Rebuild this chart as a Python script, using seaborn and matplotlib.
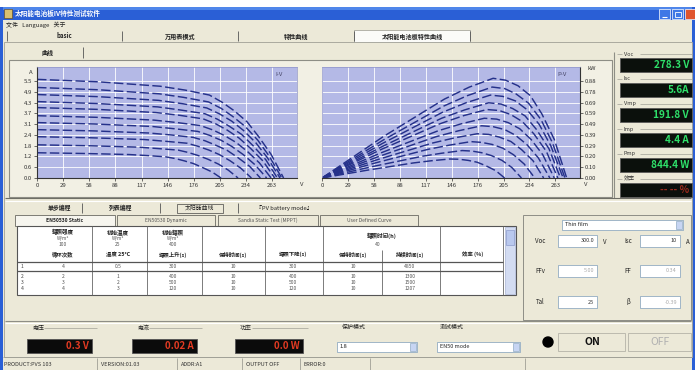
import matplotlib
matplotlib.use("Agg")
import matplotlib.pyplot as plt
from matplotlib.patches import Rectangle, Circle
import pandas as pd
import seaborn as sns

# ---------------- data ----------------
V_01 = [0, 69, 138, 166, 193, 207, 221, 235, 248, 262, 276]
I_01 = [5.59, 5.45, 5.20, 4.98, 4.70, 4.30, 3.80, 3.19, 2.35, 1.34, 0]
V_02 = [0, 69, 137, 164, 192, 206, 219, 233, 247, 260, 274]
I_02 = [5.13, 5.00, 4.77, 4.57, 4.31, 3.95, 3.49, 2.92, 2.15, 1.23, 0]
V_03 = [0, 68, 136, 163, 190, 204, 218, 231, 245, 258, 272]
I_03 = [4.73, 4.61, 4.40, 4.21, 3.97, 3.64, 3.22, 2.70, 1.99, 1.14, 0]
V_04 = [0, 67, 135, 161, 188, 202, 215, 229, 242, 256, 269]
I_04 = [4.33, 4.22, 4.03, 3.85, 3.64, 3.33, 2.94, 2.47, 1.82, 1.04, 0]
V_05 = [0, 67, 133, 160, 186, 200, 213, 226, 239, 253, 266]
I_05 = [3.99, 3.89, 3.71, 3.55, 3.35, 3.07, 2.71, 2.27, 1.68, 0.96, 0]
V_06 = [0, 66, 131, 157, 183, 197, 210, 223, 236, 249, 262]
I_06 = [3.53, 3.44, 3.28, 3.14, 2.97, 2.72, 2.40, 2.01, 1.48, 0.85, 0]
V_07 = [0, 64, 129, 154, 180, 193, 206, 218, 231, 244, 257]
I_07 = [3.14, 3.06, 2.92, 2.79, 2.64, 2.42, 2.14, 1.79, 1.32, 0.75, 0]
V_08 = [0, 63, 125, 150, 175, 188, 200, 213, 225, 238, 250]
I_08 = [2.74, 2.67, 2.55, 2.44, 2.30, 2.11, 1.86, 1.56, 1.15, 0.66, 0]
V_09 = [0, 60, 120, 144, 168, 180, 192, 204, 216, 228, 240]
I_09 = [2.34, 2.28, 2.18, 2.08, 1.97, 1.80, 1.59, 1.33, 0.98, 0.56, 0]
V_10 = [0, 56, 113, 135, 158, 169, 180, 191, 203, 214, 225]
I_10 = [1.88, 1.83, 1.75, 1.67, 1.58, 1.45, 1.28, 1.07, 0.79, 0.45, 0]
V_11 = [0, 52, 103, 124, 144, 155, 165, 175, 185, 196, 206]
I_11 = [1.43, 1.39, 1.33, 1.27, 1.20, 1.10, 0.97, 0.82, 0.60, 0.34, 0]

VOLT_SETS = [V_01, V_02, V_03, V_04, V_05, V_06, V_07, V_08, V_09, V_10, V_11]
AMP_SETS = [I_01, I_02, I_03, I_04, I_05, I_06, I_07, I_08, I_09, I_10, I_11]

V_TICKS = [0, 29.25, 58.5, 87.75, 117, 146.25, 175.5, 204.75, 234, 263.25]
V_LABELS = ["0", "29", "58", "88", "117", "146", "176", "205", "234", "263"]
I_TICKS = [0, 0.61, 1.22, 1.83, 2.44, 3.05, 3.66, 4.27, 4.88, 5.49]
I_LABELS = ["0.0", "0.6", "1.2", "1.8", "2.4", "3.1", "3.7", "4.3", "4.9", "5.5"]
P_TICKS = [0, 0.098, 0.196, 0.294, 0.392, 0.49, 0.588, 0.686, 0.784, 0.882]
P_LABELS = ["0.00", "0.10", "0.20", "0.29", "0.39", "0.49", "0.59", "0.69", "0.78", "0.88"]

DISPLAY_NAMES = ["Voc", "Isc", "Vmp", "Imp", "Pmp", "效率"]
DISPLAY_VALUES = ["278.3 V", "5.6A", "191.8 V", "4.4 A", "844.4 W", "-- -- %"]

MAIN_TABS = ["basic", "万用表模式", "特性曲线", "太阳能电池板特性曲线"]
LOWER_TABS = ["单步编程", "列表编程", "太阳能曲线", "『PV battery mode』"]
SUB_TABS = ["EN50530 Static", "EN50530 Dynamic", "Sandia Static Test (MPPT)", "User Defined Curve"]
TABLE_HEAD = ["循环次数", "温度 25°C", "辐照上升(s)", "保持时间(s)", "辐照下降(s)", "保持时间(s)", "持续时间(s)", "效率 (%)"]
TABLE_ROWS = [
    ["1", "4", "0.5", "300", "10", "300", "10", "4850", ""],
    ["2", "2", "1", "400", "10", "400", "10", "1300", ""],
    ["3", "3", "2", "500", "10", "500", "10", "1500", ""],
    ["4", "4", "3", "120", "10", "120", "10", "1207", ""],
]
BOTTOM_NAMES = ["电压", "电流", "功率"]
BOTTOM_VALUES = ["0.3 V", "0.02 A", "0.0 W"]
STATUS = ["PRODUCT:PVS 103", "VERSION:01.03", "ADDR:A1", "OUTPUT OFF", "ERROR:0"]

# ---------------- style ----------------
sns.set_theme(style="white")
plt.rcParams["font.family"] = ["Noto Sans CJK SC", "DejaVu Sans"]
plt.rcParams["axes.unicode_minus"] = False

W, H = 695, 370
WIN = "#ece9d8"
PLOT_BG = "#b4b9e6"
CURVE = "#25318a"

fig = plt.figure(figsize=(W / 100, H / 100), dpi=100)
fig.patch.set_facecolor(WIN)

bg = fig.add_axes([0, 0, 1, 1])
bg.set_xlim(0, W)
bg.set_ylim(H, 0)
bg.axis("off")


def rect(x0, y0, x1, y1, fc, ec="none", lw=0.6, z=1):
    bg.add_patch(Rectangle((x0, y0), x1 - x0, y1 - y0, facecolor=fc,
                           edgecolor=ec, linewidth=lw, zorder=z))


def line(xs, ys, c="#8a8a80", lw=0.6, z=2):
    bg.plot(xs, ys, color=c, lw=lw, zorder=z, solid_capstyle="butt")


def txt(x, y, s, size=4.5, color="#222222", ha="left", va="center", weight="normal", z=5):
    bg.text(x, y, s, fontsize=size, color=color, ha=ha, va=va, fontweight=weight, zorder=z)


# white strip above window, title bar
rect(0, 0, W, 7, "white")
rect(0, 7, W, 20, "#2a5fd6")
rect(0, 7, W, 10, "#4f86ea")
rect(0, 7, 3, H, "#2a5fd6")
rect(692, 7, W, H, "#2a5fd6")
rect(4, 9, 12, 18, "#d8c070", ec="#604010", lw=0.4, z=3)
txt(15, 13.5, "太阳能电池板IV特性测试软件", size=4.8, color="white", weight="bold")
for x0, fc in [(659, "#3f78e6"), (672, "#3f78e6"), (685, "#e0552e")]:
    rect(x0, 9, x0 + 11, 19, fc, ec="white", lw=0.5, z=3)
line([661.5, 666.5], [16.5, 16.5], c="white", lw=0.8, z=4)
bg.add_patch(Rectangle((674.5, 11.5), 6, 5, facecolor="none", edgecolor="white", lw=0.6, zorder=4))

# menu
txt(6, 25, "文件   Language   关于", size=4.3)

# main tabs
tab_x = [7, 122, 238, 354, 470]
rect(354, 30, 470, 42, "#fbfbf8", ec="#9a9a90", lw=0.5, z=2)
for i, name in enumerate(MAIN_TABS):
    cx = (tab_x[i] + tab_x[i + 1]) / 2
    txt(cx, 36, name, size=4.4, ha="center", weight="bold")
for x in tab_x:
    line([x, x], [31, 41], c="#555555", lw=0.6)

# content panel
rect(4, 42, 692, 357, WIN, ec="#a0a096", lw=0.6, z=1)
txt(47, 53, "曲线", size=4.3, ha="center", weight="bold")
line([83, 83], [47, 58], c="#555555")
rect(9, 60, 612, 197, "#f2f0e4", ec="#8e8e86", lw=0.8, z=1)
line([614, 614], [52, 198], c="#8e8e86", lw=0.8)

# right-side displays
box_top = [58, 83, 108, 133, 158, 183]
for i, (name, val) in enumerate(zip(DISPLAY_NAMES, DISPLAY_VALUES)):
    y0 = box_top[i]
    line([617, 622], [y0 - 4, y0 - 4], c="#a0a096", lw=0.5)
    line([640, 692], [y0 - 4, y0 - 4], c="#a0a096", lw=0.5)
    txt(624, y0 - 4, name, size=4.0, color="#333333")
    rect(620, y0, 692, y0 + 14, "#0b100c", ec="#5a5a5a", lw=0.6, z=2)
    col = "#9a2a1c" if i == 5 else "#2ee06a"
    txt(689, y0 + 7.3, val, size=7.2, color=col, ha="right", weight="bold")

# lower section
line([5, 691], [198, 198], c="#6e6e66", lw=0.8)
line([5, 691], [200.5, 200.5], c="white", lw=0.8)
low_x = [20, 82, 160, 238, 330]
for i, name in enumerate(LOWER_TABS):
    cx = (low_x[i] + low_x[i + 1]) / 2 + (8 if i == 0 else 0)
    txt(cx, 208, name, size=4.2, ha="center", weight="bold" if i < 2 else "normal")
rect(177, 203.5, 223, 212.5, "none", ec="#444444", lw=0.5, z=3)
for x in [82, 160, 238]:
    line([x, x], [203, 213], c="#555555")

sub_x = [(15, 115), (117, 215), (218, 318), (320, 418)]
for i, (a, b) in enumerate(sub_x):
    rect(a, 215, b, 226, "#f6f5ee" if i == 0 else WIN, ec="#6a6a62", lw=0.6, z=2)
    txt((a + b) / 2, 220.5, SUB_TABS[i], size=3.6, ha="center",
        color="#222222" if i == 0 else "#555555", weight="bold" if i == 0 else "normal")

# table
rect(17, 226, 516, 295, "white", ec="#555555", lw=0.8, z=2)
col_lines = [92, 147, 202, 265, 323, 382, 440, 503]
for x in col_lines:
    line([x, x], [250 if x == 382 else 226, 295], c="#666666", lw=0.6, z=3)
line([17, 503], [262, 262], c="#555555", lw=0.9, z=3)
line([17, 503], [271, 271], c="#555555", lw=0.9, z=3)
col_cx = [63, 118, 173, 233, 293, 353, 410, 473]
heads_top = [("辐照强度", "W/m²", "100"), ("初始温度", "W/m²", "25"), ("初始辐照", "W/m²", "400")]
for i, (a, b, c) in enumerate(heads_top):
    txt(col_cx[i], 232, a, size=4.0, ha="center", weight="bold")
    txt(col_cx[i], 238.5, b, size=3.4, ha="center", color="#555555")
    txt(col_cx[i], 245, c, size=3.6, ha="center", color="#555555")
txt(382, 236, "辐照时间(h)", size=4.0, ha="center", weight="bold")
txt(378, 245, "40", size=3.6, ha="center", color="#555555")
for i, h in enumerate(TABLE_HEAD):
    txt(col_cx[i], 254.5, h, size=3.9, ha="center", weight="bold")
row_y = [266.5, 277, 283, 288.5]
for r, row in enumerate(TABLE_ROWS):
    txt(22, row_y[r], row[0], size=3.6, ha="center", color="#444444")
    for i in range(7):
        txt(col_cx[i], row_y[r], row[i + 1], size=3.6, ha="center", color="#555555")
rect(505, 227, 515, 294, "#d3dcf2", ec="#9aa6cc", lw=0.4, z=3)
rect(506, 230, 514, 245, "#b9c8ee", ec="#7f90c4", lw=0.4, z=4)

# right lower panel
rect(523, 215, 691, 320, WIN, ec="#8e8e86", lw=0.7, z=2)
rect(562, 220, 683, 230, "white", ec="#7f9db9", lw=0.5, z=3)
txt(565, 225, "Thin film", size=4.0)
rect(676, 221, 682, 229, "#c7d5f3", ec="#7f9db9", lw=0.4, z=4)
fields = [
    (241, "Voc", "300.0", "V", "Isc", "10", "A", False),
    (271, "FFv", "5.00", "", "FF", "0.34", "", True),
    (302, "Tal", "25", "", "β", "-0.39", "", True),
]
for y, l1, v1, u1, l2, v2, u2, grey in fields:
    txt(540, y, l1, size=4.4, ha="center")
    rect(558, y - 6, 597, y + 6, "white", ec="#7f9db9", lw=0.5, z=3)
    txt(594, y, v1, size=4.0, ha="right", color="#333333" if l1 != "FFv" else "#aaaaaa")
    txt(603, y + 1, u1, size=4.4)
    txt(628, y, l2, size=4.4, ha="center")
    rect(640, y - 6, 680, y + 6, "white", ec="#7f9db9", lw=0.5, z=3)
    txt(677, y, v2, size=4.0, ha="right", color="#aaaaaa" if grey else "#333333")
    txt(686, y + 1, u2, size=4.4)

# bottom group: meters
line([5, 691], [321, 321], c="#8e8e86", lw=0.8)
line([5, 691], [323, 323], c="white", lw=0.8)
meter_x = [(27, 92), (132, 197), (235, 303)]
for i, (a, b) in enumerate(meter_x):
    txt(a + 5, 328, BOTTOM_NAMES[i], size=4.3)
    line([a + 17, b + 5], [328, 328], c="#a0a096", lw=0.5)
    rect(a, 339, b, 353, "#0b0b0b", ec="#555555", lw=0.6, z=2)
    txt(b - 3, 346.3, BOTTOM_VALUES[i], size=7.0, color="#e23a22", ha="right", weight="bold")
txt(342, 327, "保护模式", size=4.3)
rect(337, 342, 417, 352, "white", ec="#7f9db9", lw=0.5, z=2)
txt(340, 347, "1.8", size=4.0)
rect(410, 343, 416, 351, "#c7d5f3", ec="#7f9db9", lw=0.4, z=3)
txt(440, 327, "测试模式", size=4.3)
rect(437, 342, 520, 352, "white", ec="#7f9db9", lw=0.5, z=2)
txt(440, 347, "EN50 mode", size=4.0)
rect(513, 343, 519, 351, "#c7d5f3", ec="#7f9db9", lw=0.4, z=3)

bg.add_patch(Circle((548, 342), 5, color="black", zorder=4))
rect(558, 333, 625, 351, WIN, ec="#b5b3a8", lw=0.6, z=2)
txt(592, 342, "ON", size=7.5, ha="center", weight="bold", color="#111111")
rect(628, 333, 691, 351, WIN, ec="#b5b3a8", lw=0.6, z=2)
txt(660, 342, "OFF", size=7.5, ha="center", color="#b0b0b0")

# status bar
line([3, 692], [357, 357], c="#a0a096", lw=0.6)
status_x = [3, 100, 180, 245, 303]
for x, s in zip(status_x, STATUS):
    txt(x + 1, 364, s, size=4.0, color="#333333")
for x in [97, 177, 242, 300, 370, 525]:
    line([x, x], [358, 370], c="#a0a096", lw=0.6)

# ---------------- charts (seaborn) ----------------
rows = []
for k, (vs, cs) in enumerate(zip(VOLT_SETS, AMP_SETS)):
    for v, c in zip(vs, cs):
        rows.append({"curve": k, "V": v, "I": c, "P": v * c / 1000.0})
df = pd.DataFrame(rows)


def px_axes(x0, y0, x1, y1):
    return fig.add_axes([x0 / W, 1 - y1 / H, (x1 - x0) / W, (y1 - y0) / H])


ax1 = px_axes(37, 67, 297, 178)
ax2 = px_axes(322, 67, 580, 178)

dash = (0, (6.5, 2.3))
sns.lineplot(data=df, x="V", y="I", units="curve", estimator=None, color=CURVE,
             linewidth=1.05, linestyle=dash, legend=False, ax=ax1)
sns.lineplot(data=df, x="V", y="P", units="curve", estimator=None, color=CURVE,
             linewidth=1.05, linestyle=dash, legend=False, ax=ax2)

for ax in (ax1, ax2):
    ax.set_facecolor(PLOT_BG)
    ax.set_xlim(0, 291)
    ax.set_xticks(V_TICKS, V_LABELS)
    ax.set_xlabel("")
    ax.set_ylabel("")
    ax.grid(True, color="white", linewidth=0.6)
    ax.set_axisbelow(True)
    ax.tick_params(labelsize=4.3, length=2.2, width=0.5, pad=1.5, colors="#333333",
                   direction="out")
    for s in ax.spines.values():
        s.set_color("#8f95c8")
        s.set_linewidth(0.5)
    ax.spines["bottom"].set_color("#333333")
    ax.spines["bottom"].set_linewidth(0.8)

ax1.set_ylim(0, 6.29)
ax1.set_yticks(I_TICKS, I_LABELS)
ax1.tick_params(axis="x", bottom=True)
ax1.tick_params(axis="y", left=True)
ax1.spines["left"].set_color("#333333")
ax1.spines["left"].set_linewidth(0.8)

ax2.set_ylim(0, 1.01)
ax2.yaxis.tick_right()
ax2.set_yticks(P_TICKS, P_LABELS)
ax2.tick_params(axis="x", bottom=True)
ax2.tick_params(axis="y", right=True, left=False)
ax2.spines["right"].set_color("#333333")
ax2.spines["right"].set_linewidth(0.8)

txt(29, 72, "A", size=4.3, color="#333333")
txt(300, 185, "V", size=4.3, color="#333333")
txt(587, 68, "kW", size=4.3, color="#333333")
txt(584, 185, "V", size=4.3, color="#333333")
ax1.text(0.93, 0.93, "I-V", transform=ax1.transAxes, fontsize=4.3, color="#444466", ha="center", va="center")
ax2.text(0.93, 0.93, "P-V", transform=ax2.transAxes, fontsize=4.3, color="#444466", ha="center", va="center")

fig.savefig("out.png", dpi=100, facecolor=fig.get_facecolor())
